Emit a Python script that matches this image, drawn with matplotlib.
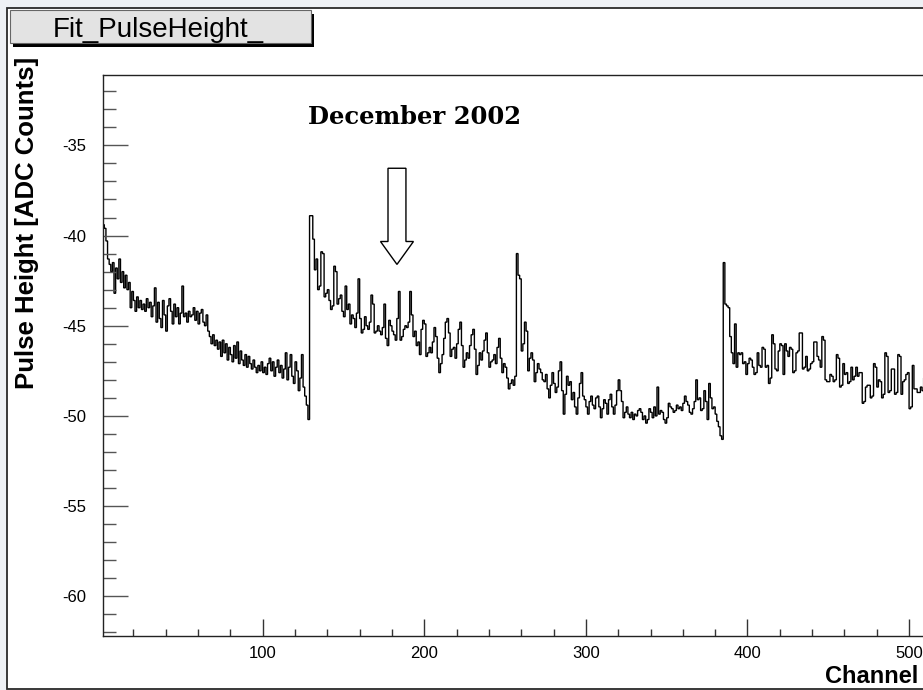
import numpy as np
import matplotlib
matplotlib.use('Agg')
import matplotlib.pyplot as plt
from matplotlib.patches import Rectangle
from matplotlib.ticker import MultipleLocator

plt.rcParams['font.family'] = ['Liberation Sans', 'DejaVu Sans']
plt.rcParams['axes.unicode_minus'] = False

# pulse height per channel (4 blocks of 128 channels)
seg_a = [-39.4, -39.6, -40.3, -41.3, -41.6, -42.0, -41.5, -43.2, -41.8, -42.4, -41.3, -42.6, -42.0, -42.9, -42.2, -43.0,
         -42.6, -44.0, -43.1, -43.6, -44.2, -43.4, -44.0, -43.6, -44.1, -43.8, -44.2, -43.5, -44.0, -43.7, -44.5, -43.9,
         -42.9, -44.8, -43.7, -44.6, -45.1, -43.6, -44.4, -45.3, -43.9, -43.5, -44.2, -44.9, -43.8, -44.5, -44.0, -44.9,
         -44.3, -42.8, -44.5, -44.3, -44.8, -44.2, -44.5, -44.4, -44.0, -44.7, -44.2, -44.9, -44.3, -44.1, -44.8, -45.0,
         -44.4, -45.3, -45.6, -46.0, -45.5, -46.1, -45.8, -46.3, -45.9, -46.7, -45.8, -46.5, -46.0, -46.9, -46.2, -46.6,
         -47.0, -46.1, -46.8, -45.9, -47.1, -46.4, -46.9, -47.2, -46.6, -47.3, -46.7, -47.1, -47.4, -46.9, -47.3, -47.6,
         -47.2, -47.5, -47.0, -47.6, -47.3, -47.7, -47.1, -46.8, -47.5, -47.0, -47.8, -47.3, -46.9, -47.6, -47.2, -47.9,
         -47.4, -46.5, -48.0, -47.3, -46.6, -47.8, -48.2, -47.0, -47.5, -48.6, -47.9, -46.6, -48.4, -48.9, -49.4, -50.2]
seg_b = [-38.9, -38.9, -40.2, -41.9, -41.3, -43.0, -42.8, -40.9, -41.0, -43.4, -43.2, -43.0, -43.6, -44.1, -43.9, -41.7,
         -42.0, -43.8, -43.5, -43.3, -44.2, -44.5, -42.8, -44.1, -43.8, -44.9, -44.4, -44.6, -45.1, -44.3, -42.4, -44.6,
         -45.4, -45.2, -44.5, -45.0, -45.2, -44.8, -43.3, -43.8, -45.4, -45.3, -45.0, -45.3, -45.5, -45.1, -43.8, -45.7,
         -46.1, -44.7, -45.0, -45.3, -45.5, -45.8, -44.6, -43.1, -45.8, -45.6, -45.2, -45.0, -45.1, -44.8, -43.1, -44.4,
         -45.6, -45.3, -46.1, -45.9, -46.6, -45.2, -44.7, -44.9, -46.7, -46.5, -46.2, -46.5, -45.9, -45.1, -45.6, -46.8,
         -47.6, -47.1, -46.6, -45.7, -44.8, -44.6, -45.4, -46.7, -46.3, -46.2, -46.8, -46.0, -45.2, -44.8, -46.1, -47.3,
         -46.9, -46.5, -46.8, -46.1, -45.5, -45.2, -46.3, -47.7, -47.2, -46.5, -46.9, -46.4, -45.8, -45.4, -46.5, -47.3,
         -47.0, -46.9, -46.6, -47.1, -46.2, -45.7, -46.8, -47.6, -47.1, -47.3, -47.9, -48.5, -48.2, -48.0, -48.3, -47.8]
seg_c = [-41.0, -42.2, -42.4, -46.4, -46.0, -44.8, -45.3, -47.5, -46.8, -46.5, -46.9, -48.1, -47.6, -47.1, -47.4, -47.6,
         -48.0, -48.1, -47.7, -48.5, -49.0, -48.3, -47.6, -48.2, -48.7, -48.4, -47.5, -47.0, -48.6, -49.9, -48.8, -47.8,
         -48.3, -48.1, -49.1, -48.7, -49.5, -49.9, -49.0, -48.2, -47.6, -48.9, -49.1, -49.5, -49.9, -49.2, -48.9, -49.4,
         -49.6, -49.0, -48.9, -49.5, -50.1, -49.6, -49.1, -49.3, -49.9, -49.1, -48.8, -49.5, -49.9, -49.4, -48.6, -48.0,
         -48.6, -49.2, -50.1, -49.8, -49.5, -49.9, -50.1, -49.8, -50.2, -49.9, -50.0, -49.7, -49.6, -49.8, -50.2, -50.0,
         -50.4, -50.2, -49.6, -49.8, -50.1, -49.5, -50.0, -48.4, -49.9, -49.7, -49.8, -50.2, -50.4, -50.1, -49.3, -49.5,
         -49.6, -49.8, -49.7, -49.4, -49.6, -49.5, -49.7, -49.3, -48.9, -49.2, -49.4, -49.8, -49.9, -49.6, -49.2, -48.0,
         -49.1, -49.0, -49.7, -49.6, -48.6, -49.2, -50.2, -48.2, -49.0, -49.6, -49.5, -49.9, -50.3, -50.6, -51.1, -51.3]
seg_d = [-41.5, -43.8, -43.9, -44.0, -45.6, -46.5, -47.1, -44.9, -47.3, -46.5, -46.6, -46.5, -47.1, -47.0, -47.7, -47.1,
         -46.8, -46.9, -47.3, -47.7, -47.6, -46.5, -47.2, -47.3, -46.2, -46.3, -47.3, -47.2, -48.2, -47.9, -45.5, -46.0,
         -47.4, -47.5, -46.4, -46.0, -46.1, -47.7, -46.0, -46.4, -46.7, -46.2, -46.3, -47.6, -47.5, -46.5, -46.4, -45.4,
         -45.4, -47.4, -47.3, -46.7, -47.5, -47.4, -47.1, -47.0, -45.9, -45.9, -46.7, -46.9, -47.3, -45.6, -45.8, -48.0,
         -48.1, -48.1, -47.7, -47.8, -48.1, -48.0, -46.6, -46.8, -48.4, -48.3, -47.1, -47.7, -47.6, -48.2, -48.1, -47.3,
         -48.0, -47.8, -47.3, -47.8, -47.6, -47.6, -49.3, -49.2, -48.4, -48.3, -48.3, -49.0, -48.9, -47.1, -47.3, -48.4,
         -48.0, -48.1, -49.0, -48.8, -46.5, -46.7, -48.7, -48.6, -47.4, -47.4, -48.8, -48.7, -46.6, -46.7, -48.8, -48.1,
         -48.0, -47.7, -47.6, -49.6, -49.5, -47.2, -48.5, -48.5, -48.7, -48.7, -48.4, -48.6, -47.9, -48.3, -48.8, -48.2]

first_channel = 1
x_range = (1, 520)
y_range = (-62.2, -31.1)

note_text = 'December 2002'
note_pos = (194, -33.83)
arrow_x = 183.1
arrow_top = -36.27
arrow_tip = -41.6

values = np.array(seg_a + seg_b + seg_c + seg_d)
edges = np.arange(len(values) + 1) + first_channel

W, H = 923, 690
fig = plt.figure(figsize=(W / 100, H / 100), dpi=100, facecolor='#eef1f5')

def fx(px):
    return px / W

def fy(py):
    return 1 - py / H

# canvas pad (white, framed)
fig.patches.append(Rectangle((fx(7), fy(688.5)), 1.2, (688.5 - 8) / H, transform=fig.transFigure,
                             facecolor='white', edgecolor='#2a2a2a', lw=1.3, zorder=-1))

# title box with shadow
fig.patches.append(Rectangle((fx(13), fy(47)), (311 - 10) / W, (43 - 10) / H, transform=fig.transFigure,
                             facecolor='black', edgecolor='none', zorder=2))
fig.patches.append(Rectangle((fx(10), fy(43)), (311 - 10) / W, (43 - 10) / H, transform=fig.transFigure,
                             facecolor='#e3e3e3', edgecolor='#666666', lw=0.8, zorder=3))
fig.text(fx(158), fy(37), 'Fit_PulseHeight_', ha='center', va='baseline', fontsize=20, zorder=4)

# plot frame
px_per_ch = 1.616
ax_left, ax_top, ax_bottom = 102.7, 75, 636
ax_w = (x_range[1] - x_range[0]) * px_per_ch
ax = fig.add_axes([fx(ax_left), fy(ax_bottom), ax_w / W, (ax_bottom - ax_top) / H])
ax.set_xlim(x_range)
ax.set_ylim(y_range)

ax.stairs(values, edges, color='black', lw=1.0)

ax.arrow(arrow_x, arrow_top, 0, arrow_tip - arrow_top, width=11.1, head_width=20.4, head_length=1.27,
         length_includes_head=True, fc='white', ec='black', lw=1.0, zorder=3)
ax.text(note_pos[0], note_pos[1], note_text, family='DejaVu Serif', weight='bold', fontsize=17.5,
        ha='center', va='baseline')

ax.xaxis.set_major_locator(MultipleLocator(100))
ax.xaxis.set_minor_locator(MultipleLocator(20))
ax.yaxis.set_major_locator(MultipleLocator(5))
ax.yaxis.set_minor_locator(MultipleLocator(1))
ax.tick_params(axis='y', which='major', direction='in', length=18, width=1, color='#555555', pad=12, labelsize=12)
ax.tick_params(axis='y', which='minor', direction='in', length=9.4, width=1, color='#555555')
ax.tick_params(axis='x', which='major', direction='in', length=12.2, width=1, color='#333333', pad=7, labelsize=12)
ax.tick_params(axis='x', which='minor', direction='in', length=5, width=1, color='#333333')
for s in ax.spines.values():
    s.set_color('#222222')
    s.set_linewidth(1.0)

fig.text(fx(27), fy(57), 'Pulse Height [ADC Counts]', rotation=90, ha='center', va='top',
         weight='bold', fontsize=18.5)
fig.text(fx(918), fy(688), 'Channel', ha='right', va='bottom', weight='bold', fontsize=17)

fig.savefig('out.png', dpi=100, facecolor=fig.get_facecolor())
